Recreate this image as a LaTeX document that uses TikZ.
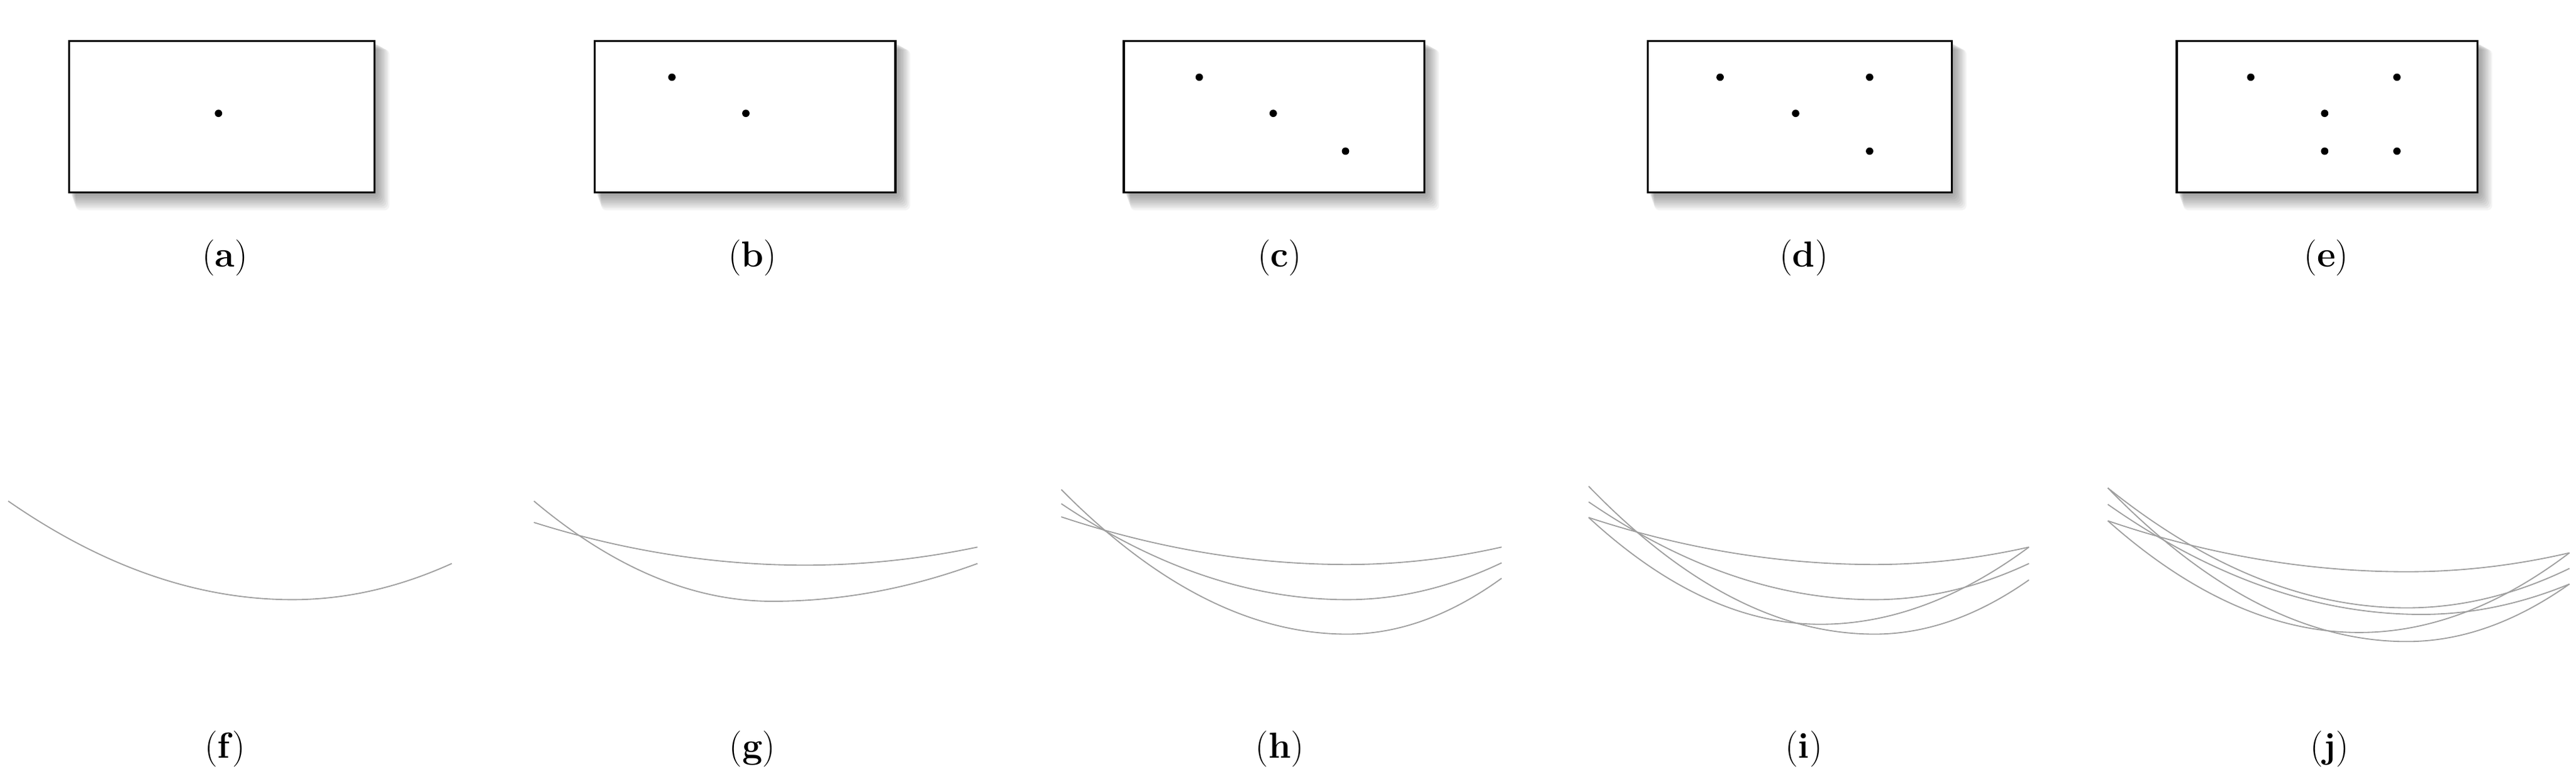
\documentclass[tikz,border=0pt]{standalone}
\usetikzlibrary{calc}
\newcommand{\pcurve}[6]{%
  \draw[crv] (#1,#2) .. controls ($(#1,#2)!0.6667!({(#1+#3)/2},#4)$) and ($(#3,#4)!0.6667!({(#1+#3)/2},#4)$) .. (#3,#4)
    .. controls ($(#3,#4)!0.6667!({(#3+#5)/2},#4)$) and ($(#5,#6)!0.6667!({(#3+#5)/2},#4)$) .. (#5,#6);}
\newcommand{\panel}[3]{% name, left x, right x
  \foreach \k in {1,...,10}{\fill[black,opacity=0.045,rounded corners=3pt] ({#2+\k*0.4},{25+\k*0.5}) rectangle ({#3+\k*0.9},{117+\k*1.1});}
  \node[box,minimum width={(#3-#2)*1pt},minimum height=92pt] (#1) at ({(#2+#3)/2},71) {};}
\begin{document}
\begin{tikzpicture}[x=1pt,y=-1pt,
  box/.style={draw,fill=white,line width=1.3pt,inner sep=0pt,outer sep=0pt},
  dot/.style={circle,fill=black,inner sep=0pt,minimum size=4.5pt},
  crv/.style={gray!75,line width=0.7pt},
  lab/.style={font=\fontsize{22}{26}\selectfont}]
\useasboundingbox[fill=white] (0,0) rectangle (1568,477);
\panel{A}{42}{228}
\panel{B}{362}{545}
\panel{C}{684}{867}
\panel{D}{1003}{1188}
\panel{E}{1325}{1508}
\node[dot] (a1) at (133,69) {};
\node[dot] (b1) at (409,47) {};
\node[dot] (b2) at (454,69) {};
\node[dot] (c1) at (730,47) {};
\node[dot] (c2) at (775,69) {};
\node[dot] (c3) at (819,92) {};
\node[dot] (d1) at (1047,47) {};
\node[dot] (d2) at (1093,69) {};
\node[dot] (d3) at (1138,47) {};
\node[dot] (d4) at (1138,92) {};
\node[dot] (e1) at (1370,47) {};
\node[dot] (e2) at (1415,69) {};
\node[dot] (e3) at (1459,47) {};
\node[dot] (e4) at (1415,92) {};
\node[dot] (e5) at (1459,92) {};
\node[lab] (la) at (137,157) {(\textbf{a})};
\node[lab] (lb) at (458,157) {(\textbf{b})};
\node[lab] (lc) at (779,157) {(\textbf{c})};
\node[lab] (ld) at (1098,157) {(\textbf{d})};
\node[lab] (le) at (1416,157) {(\textbf{e})};
\node[lab] (lf) at (137,456) {(\textbf{f})};
\node[lab] (lg) at (458,456) {(\textbf{g})};
\node[lab] (lh) at (779,456) {(\textbf{h})};
\node[lab] (li) at (1098,456) {(\textbf{i})};
\node[lab] (lj) at (1418,456) {(\textbf{j})};
% f
\pcurve{5}{305}{178}{365}{275}{343}
% g
\pcurve{325}{305}{470}{366}{595}{343}
\pcurve{325}{318}{490}{344}{595}{333}
% h
\pcurve{646}{298}{820}{386}{914}{352}
\pcurve{646}{306.6}{820}{365}{914}{342.6}
\pcurve{646}{314.6}{820}{343.6}{914}{333}
% i
\pcurve{967}{296}{1141}{386}{1235}{353}
\pcurve{967}{305.5}{1141}{365}{1235}{343}
\pcurve{967}{315}{1141}{343.6}{1235}{333}
\pcurve{967}{315}{1108}{380}{1235}{333}
% j
\pcurve{1283}{317}{1465}{348}{1564}{336.5}
\pcurve{1283}{297}{1465}{370}{1564}{346}
\pcurve{1283}{307}{1474}{374}{1564}{355.5}
\pcurve{1283}{317}{1436}{385}{1564}{336.5}
\pcurve{1283}{297}{1465}{390.5}{1564}{355.5}
\end{tikzpicture}
\end{document}
